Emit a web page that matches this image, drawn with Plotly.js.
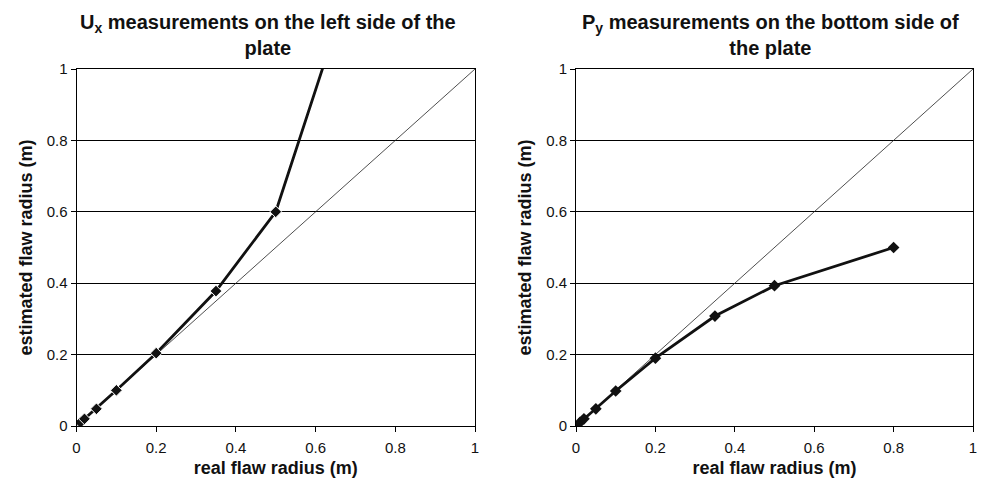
<!DOCTYPE html>
<html>
<head>
<meta charset="utf-8">
<script src="https://cdn.plot.ly/plotly-3.0.1.min.js"></script>
<style>html,body{margin:0;padding:0;background:#fff;}#chart{width:983px;height:486px;}</style>
</head>
<body>
<div id="chart"></div>
<script>
// Left panel: Ux measurements on the left side of the plate
const leftReal = [0, 0.01, 0.02, 0.05, 0.1, 0.2, 0.35, 0.5, 0.62];
const leftEst  = [0, 0.01, 0.02, 0.048, 0.1, 0.204, 0.378, 0.6, 1.01];
// Right panel: Py measurements on the bottom side of the plate
const rightReal = [0, 0.01, 0.02, 0.05, 0.1, 0.2, 0.35, 0.5, 0.8];
const rightEst  = [0, 0.01, 0.02, 0.048, 0.098, 0.19, 0.308, 0.393, 0.5];
// Reference line y = x
const diagX = [0, 1];
const diagY = [0, 1];

const leftTitle = "U<sub>x</sub> measurements on the left side of the<br>plate";
const rightTitle = "P<sub>y</sub> measurements on the bottom side of<br>the plate";
const xTitle = "real flaw radius (m)";
const yTitle = "estimated flaw radius (m)";
const tickVals = [0, 0.2, 0.4, 0.6, 0.8, 1];
const tickText = ["0", "0.2", "0.4", "0.6", "0.8", "1"];

const F = "Liberation Sans, Arial, sans-serif";

const leftSizes = leftReal.map((v, i) => i === leftReal.length - 1 ? 0 : 9);

const traces = [
  {x: diagX, y: diagY, xaxis: 'x', yaxis: 'y', mode: 'lines', line: {color: '#222', width: 0.8}, hoverinfo: 'skip'},
  {x: leftReal, y: leftEst, xaxis: 'x', yaxis: 'y', mode: 'lines+markers',
   line: {color: '#111', width: 2.8}, marker: {symbol: 'diamond', size: leftSizes, color: '#111', opacity: 1}},
  {x: diagX, y: diagY, xaxis: 'x2', yaxis: 'y2', mode: 'lines', line: {color: '#222', width: 0.8}, hoverinfo: 'skip'},
  {x: rightReal, y: rightEst, xaxis: 'x2', yaxis: 'y2', mode: 'lines+markers',
   line: {color: '#111', width: 2.8}, marker: {symbol: 'diamond', size: 9, color: '#111', opacity: 1}}
];

function xax(domain, anchor) {
  return {domain: domain, anchor: anchor, range: [0, 1], tickvals: tickVals, ticktext: tickText,
    showgrid: false, zeroline: false, showline: true, linecolor: '#000', linewidth: 1, mirror: true,
    ticks: 'outside', ticklen: 5, tickcolor: '#000', tickwidth: 1, ticklabelstandoff: 3,
    tickfont: {family: F, size: 15, color: '#111'},
    title: {text: '<b>' + xTitle + '</b>', font: {family: F, size: 18, color: '#111'}, standoff: 6}};
}
function yax(domain, anchor) {
  return {domain: domain, anchor: anchor, range: [0, 1], tickvals: tickVals, ticktext: tickText,
    showgrid: true, gridcolor: '#000', gridwidth: 1, zeroline: false, showline: true, linecolor: '#000', linewidth: 1, mirror: true,
    ticks: 'outside', ticklen: 5, tickcolor: '#000', tickwidth: 1,
    tickfont: {family: F, size: 15, color: '#111'},
    title: {text: '<b>' + yTitle + '</b>', font: {family: F, size: 18, color: '#111'}, standoff: 9}};
}

const yDom = [1 - 426/486, 1 - 69/486];
const layout = {
  width: 983, height: 486,
  margin: {l: 0, r: 0, t: 0, b: 0},
  paper_bgcolor: '#fff', plot_bgcolor: '#fff',
  showlegend: false,
  xaxis: xax([76.5/983, 475/983], 'y'),
  yaxis: yax(yDom, 'x'),
  xaxis2: xax([576/983, 973/983], 'y2'),
  yaxis2: yax(yDom, 'x2'),
  annotations: [
    {text: '<b>' + leftTitle + '</b>', xref: 'paper', yref: 'paper', x: 268/983, y: 1 - 9/486,
     xanchor: 'center', yanchor: 'top', showarrow: false, font: {family: F, size: 20, color: '#111'}, align: 'center'},
    {text: '<b>' + rightTitle + '</b>', xref: 'paper', yref: 'paper', x: 770/983, y: 1 - 9/486,
     xanchor: 'center', yanchor: 'top', showarrow: false, font: {family: F, size: 20, color: '#111'}, align: 'center'}
  ]
};

Plotly.newPlot('chart', traces, layout, {staticPlot: true});
</script>
</body>
</html>
